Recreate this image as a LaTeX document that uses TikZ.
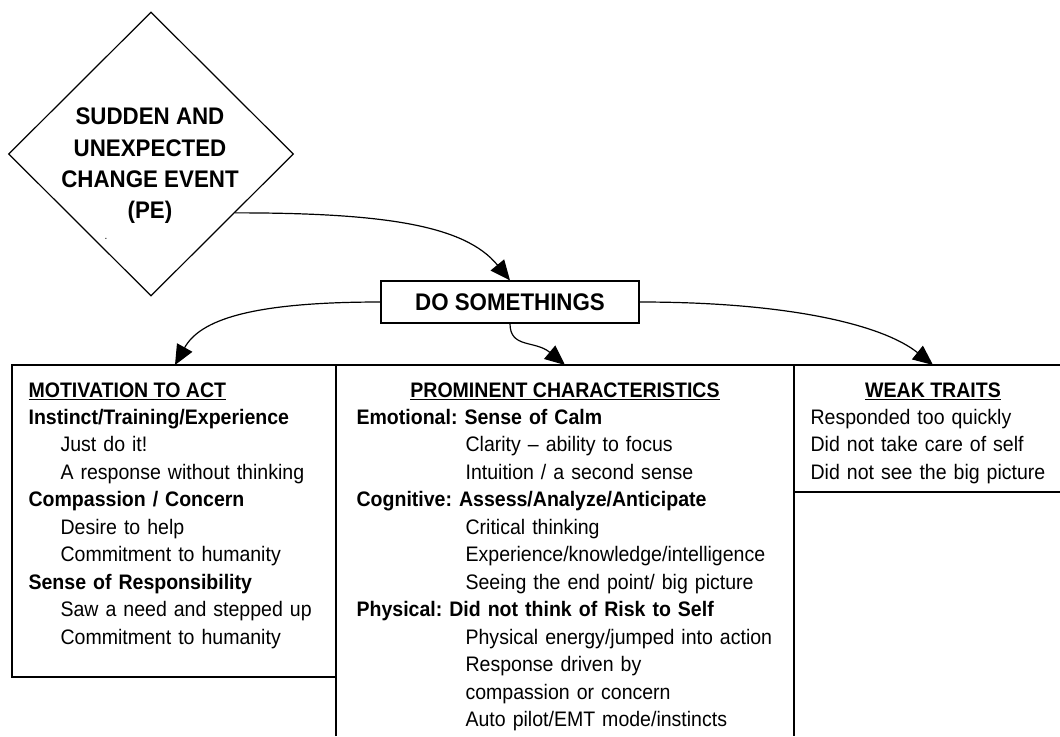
\documentclass[tikz,border=0pt]{standalone}
\usepackage{fontspec}
\setmainfont{Liberation Sans}[FakeStretch=0.93]
\usetikzlibrary{arrows.meta}
\usetikzlibrary{shapes.geometric}

\tikzset{
  flowarrow/.style={-{Triangle[length=15pt,width=13pt]}},
  headtxt/.style={anchor=base, inner sep=0pt, font=\bfseries\fontsize{15.75}{20.6}\selectfont},
  bodytxt/.style={anchor=base west, align=left, inner sep=0pt, text width=330pt,
    font=\frenchspacing\fontsize{15.75}{20.6}\selectfont},
  bigtxt/.style={font=\bfseries\fontsize{18}{23.5}\selectfont}
}

\begin{document}
\begin{tikzpicture}[x=0.75pt, y=-0.75pt, line width=0.9pt]
    \useasboundingbox (0,0) rectangle (1060,736);

    % event and reaction
    \node[draw, diamond, inner sep=0pt, minimum width=213.75pt, minimum height=213pt] (event) at (151,154) {};
    \node[bigtxt, align=center] (eventlbl) at (150,166) {SUDDEN AND\\UNEXPECTED\\CHANGE EVENT\\(PE)};
    \node[font=\fontsize{8}{8}\selectfont, inner sep=0pt] (dot) at (106,239) {.};
    \node[draw, bigtxt, minimum width=193.5pt, minimum height=31.5pt] (act) at (510,302) {DO SOMETHINGS};

    % columns
    \draw (12,365) rectangle (336,677);
    \draw (336,736) -- (336,365) -- (1060,365);
    \draw (794,365) -- (794,736);
    \draw (794,492) -- (1060,492);

    \coordinate (motivtop) at (175,365);
    \coordinate (promtop) at (565,365);
    \coordinate (weaktop) at (933,365);

    \draw[flowarrow] (event.-35) .. controls +(150,0) and +(-45,-55) .. (act.north);
    \draw[flowarrow] (act.west) .. controls +(-130,0) and +(25,-45) .. (motivtop);
    \draw[flowarrow] (act.south) .. controls +(0,25) and +(-30,-25) .. (promtop);
    \draw[flowarrow] (act.east) .. controls +(150,0) and +(-50,-40) .. (weaktop);

    % motivation
    \node[headtxt, anchor=base west] (motivhead) at (28,397) {\underline{MOTIVATION TO ACT}};
    \node[bodytxt] (motivlist) at (28,424.5) {%
        \textbf{Instinct/Training/Experience}\\
        \hspace*{24pt}Just do it!\\
        \hspace*{24pt}A response without thinking\\
        \textbf{Compassion / Concern}\\
        \hspace*{24pt}Desire to help\\
        \hspace*{24pt}Commitment to humanity\\
        \textbf{Sense of Responsibility}\\
        \hspace*{24pt}Saw a need and stepped up\\
        \hspace*{24pt}Commitment to humanity};

    % characteristics
    \node[headtxt] (promhead) at (565,397) {\underline{PROMINENT CHARACTERISTICS}};
    \node[bodytxt] (promlist) at (356,424.5) {%
        \textbf{Emotional: Sense of Calm}\\
        \hspace*{81.75pt}Clarity – ability to focus\\
        \hspace*{81.75pt}Intuition / a second sense\\
        \textbf{Cognitive: Assess/Analyze/Anticipate}\\
        \hspace*{81.75pt}Critical thinking\\
        \hspace*{81.75pt}Experience/knowledge/intelligence\\
        \hspace*{81.75pt}Seeing the end point/ big picture\\
        \textbf{Physical: Did not think of Risk to Self}\\
        \hspace*{81.75pt}Physical energy/jumped into action\\
        \hspace*{81.75pt}Response driven by\\
        \hspace*{81.75pt}compassion or concern\\
        \hspace*{81.75pt}Auto pilot/EMT mode/instincts};

    % weak traits
    \node[headtxt] (weakhead) at (933,397) {\underline{WEAK TRAITS}};
    \node[bodytxt] (weaklist) at (810,424.5) {%
        Responded too quickly\\
        Did not take care of self\\
        Did not see the big picture};
\end{tikzpicture}
\end{document}
